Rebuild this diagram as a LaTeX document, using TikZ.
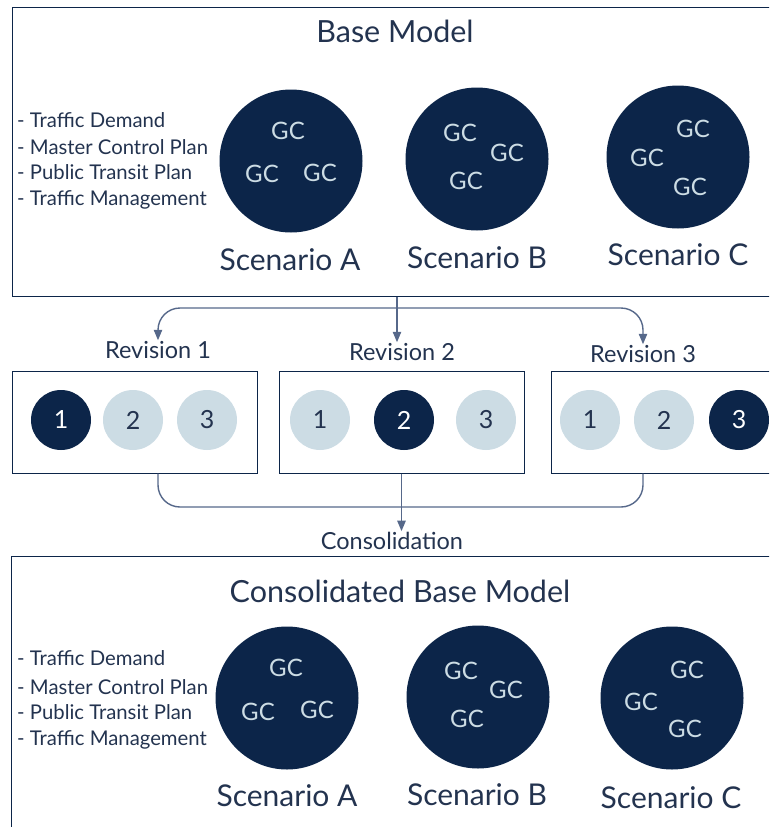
\documentclass[tikz,border=0pt]{standalone}
\usepackage{fontspec}
\setmainfont{Lato}
\usetikzlibrary{arrows,shapes}
\usetikzlibrary{calc}
\definecolor{navy}{HTML}{0C2549}
\definecolor{pale}{HTML}{CCDCE4}
\definecolor{ink}{HTML}{23334F}
\definecolor{wire}{HTML}{56688A}
\tikzstyle{panel}=[rectangle,draw=navy,line width=1pt,inner sep=0pt]
\tikzstyle{scenario}=[circle,fill=navy,minimum size=143pt,inner sep=0pt]
\tikzstyle{gc}=[text=pale,font=\fontsize{24}{24}\selectfont,inner sep=0pt]
\tikzstyle{darkrev}=[circle,fill=navy,text=white,minimum size=60pt,inner sep=0pt,font=\fontsize{25}{25}\selectfont]
\tikzstyle{lightrev}=[circle,fill=pale,text=ink,minimum size=60pt,inner sep=0pt,font=\fontsize{25}{25}\selectfont]
\tikzstyle{title}=[text=ink,inner sep=0pt,font=\fontsize{30.5}{30}\selectfont]
\tikzstyle{scenlabel}=[text=ink,inner sep=0pt,font=\fontsize{30}{30}\selectfont]
\tikzstyle{bullet}=[anchor=base west,text=ink,inner sep=0pt,font=\fontsize{20.3}{20}\selectfont]
\tikzstyle{revlabel}=[text=ink,inner sep=1pt,font=\fontsize{23.5}{23}\selectfont]
\tikzstyle{edge}=[draw=wire,line width=1.4pt,->,>=triangle 45]
\tikzstyle{plainedge}=[draw=wire,line width=1.4pt]

\begin{document}
\begin{tikzpicture}[x=1pt,y=-1pt]
\clip (0,0) rectangle (769,827);

    % base model panel
    \node[panel,minimum width=770pt,minimum height=289pt] (base) at (397,151.5) {};
    \node[title] (basetitle) at (395,31) {Base Model};
    \foreach \y/\name/\txt in {127/td/Traffic Demand, 154/mc/Master Control Plan, 179/pt/Public Transit Plan, 205/tm/Traffic Management}
        \node[bullet] (top\name) at (17,\y) {- \txt};

    \foreach \pos/\name in {{(291,161)/topA}, {(477,159)/topB}, {(678,157)/topC}}
        \node[scenario] (\name) at \pos {};
    \foreach \pos/\name/\txt in {{(290,260)/topAlbl/A}, {(477,258)/topBlbl/B}, {(678,255)/topClbl/C}}
        \node[scenlabel] (\name) at \pos {Scenario \txt};
    \foreach \pos/\name in {{(288,131)/tgA1}, {(262,174)/tgA2}, {(320,173)/tgA3}, {(460,133)/tgB1}, {(507,153)/tgB2}, {(466,181)/tgB3}, {(693,129)/tgC1}, {(647,158)/tgC2}, {(690,187)/tgC3}}
        \node[gc] (\name) at \pos {GC};

    % revisions
    \foreach \pos/\name/\txt in {{(158,350)/rev1lbl/1}, {(402,352)/rev2lbl/2}, {(643,354)/rev3lbl/3}}
        \node[revlabel] (\name) at \pos {Revision \txt};
    \foreach \pos/\name in {{(134.5,422)/rev1box}, {(401.5,422)/rev2box}, {(673.5,422)/rev3box}}
        \node[panel,minimum width=245pt,minimum height=102pt] (\name) at \pos {};
    \foreach \pos/\name/\kind/\txt in {{(61,420)/ra1/darkrev/1}, {(133,420)/ra2/lightrev/2}, {(207,420)/ra3/lightrev/3},
                                       {(320,420)/rb1/lightrev/1}, {(404,420)/rb2/darkrev/2}, {(486,420)/rb3/lightrev/3},
                                       {(590,420)/rc1/lightrev/1}, {(664,420)/rc2/lightrev/2}, {(739,420)/rc3/darkrev/3}}
        \node[\kind] (\name) at \pos {\txt};

    % split into revisions
    \coordinate (split) at (397,308);
    \draw[edge] (base.south) -- (base.south |- rev2lbl.north);
    \draw[edge,<->,rounded corners=22pt] (rev1lbl.north) |- (split) -| (rev3lbl.north);

    % consolidation
    \node[revlabel] (consol) at (392,541) {Consolidation};
    \coordinate (join) at (400,507);
    \draw[plainedge,rounded corners=22pt] (rev1box.south -| rev1lbl.south) |- (join) -| (rev3box.south -| rev3lbl.south);
    \draw[edge] (rev2box.south) -- (rev2box.south |- consol.north);

    % consolidated base model panel
    \node[panel,minimum width=772pt,minimum height=276pt] (cbase) at (397,694) {};
    \node[title] (cbasetitle) at (400,591) {Consolidated Base Model};
    \foreach \y/\name/\txt in {665/td/Traffic Demand, 694/mc/Master Control Plan, 719/pt/Public Transit Plan, 745/tm/Traffic Management}
        \node[bullet] (bot\name) at (17,\y) {- \txt};

    \foreach \pos/\name in {{(287,698)/botA}, {(478,697)/botB}, {(672,698)/botC}}
        \node[scenario] (\name) at \pos {};
    \foreach \pos/\name/\txt in {{(287,796)/botAlbl/A}, {(477,795)/botBlbl/B}, {(671,798)/botClbl/C}}
        \node[scenlabel] (\name) at \pos {Scenario \txt};
    \foreach \pos/\name in {{(286,668)/bgA1}, {(258,712)/bgA2}, {(317,710)/bgA3}, {(461,671)/bgB1}, {(506,690)/bgB2}, {(467,719)/bgB3}, {(687,670)/bgC1}, {(641,702)/bgC2}, {(685,729)/bgC3}}
        \node[gc] (\name) at \pos {GC};

\end{tikzpicture}
\end{document}
